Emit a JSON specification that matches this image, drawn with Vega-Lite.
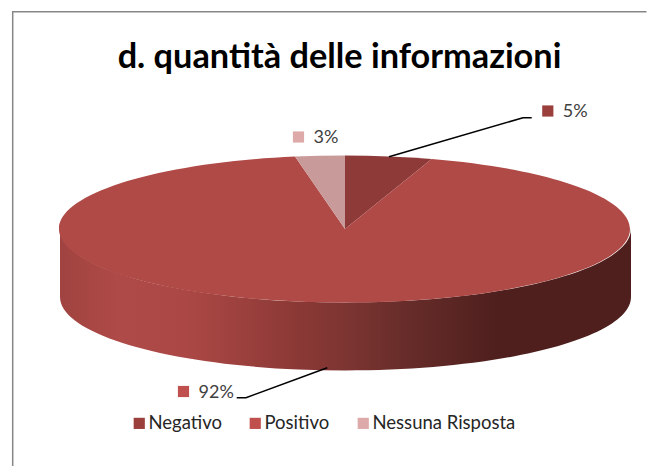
{
  "$schema": "https://vega.github.io/schema/vega-lite/v6.json",
  "width": 647,
  "height": 466,
  "padding": 0,
  "autosize": {"type": "none"},
  "background": "white",
  "view": {"stroke": null},
  "title": {"text": "d. quantità delle informazioni", "font": "Lato", "fontSize": 34.3, "fontWeight": "bold", "color": "#000000", "anchor": "middle", "baseline": "alphabetic", "offset": -102, "dx": 16},
  "data": {"values": [
    {"categoria": "Negativo", "valore": 5, "etichetta": "5%"},
    {"categoria": "Positivo", "valore": 92, "etichetta": "92%"},
    {"categoria": "Nessuna Risposta", "valore": 3, "etichetta": "3%"}
  ]},
  "layer": [
    {
      "data": {"values": [{"parte": "bordo"}]},
      "mark": {"type": "point", "shape": "M-310.8 233 L-310.8 -221.3 L323 -221.3", "size": 4, "filled": false, "stroke": "#868686", "strokeWidth": 1.5, "opacity": 1}
    },
    {
      "data": {"values": [{"parte": "lato"}]},
      "mark": {"type": "point", "shape": "M-263.5 -4 A285.5 73.5 0 0 0 307.5 -4 L307.5 64 A285.5 73.5 0 0 1 -263.5 64 Z", "size": 4, "filled": true, "opacity": 1,
        "fill": {"gradient": "linear", "x1": 0, "y1": 0, "x2": 1, "y2": 0, "stops": [
          {"offset": 0, "color": "#A04340"},
          {"offset": 0.1, "color": "#AE4A47"},
          {"offset": 0.22, "color": "#AB4845"},
          {"offset": 0.3, "color": "#9F423F"},
          {"offset": 0.42, "color": "#8A3835"},
          {"offset": 0.5, "color": "#7D3532"},
          {"offset": 0.6, "color": "#682D2A"},
          {"offset": 0.77, "color": "#4E1F1D"},
          {"offset": 1, "color": "#4E1F1D"}
        ]}}
    },
    {
      "mark": {"type": "point", "size": 4, "filled": true, "opacity": 1},
      "encoding": {
        "shape": {"field": "etichetta", "type": "nominal", "legend": null, "scale": {
          "domain": ["5%", "92%", "3%"],
          "range": [
            "M21.5 -4 L21.5 -77.5 A285.5 73.5 0 0 1 108.2 -74 Z",
            "M21.5 -4 L108.2 -74 A285.5 73.5 0 1 1 -28.5 -76.4 Z",
            "M21.5 -4 L-28.5 -76.4 A285.5 73.5 0 0 1 21.5 -77.5 Z"
          ]}},
        "fill": {"field": "etichetta", "type": "nominal", "legend": null, "scale": {
          "domain": ["5%", "92%", "3%"],
          "range": ["#8E3A38", "#AF4A47", "#C89A99"]}}
      }
    },
    {
      "transform": [{"filter": "datum.valore != 3"}],
      "mark": {"type": "point", "size": 4, "filled": false, "fill": null, "stroke": "#000000", "strokeWidth": 1.6, "opacity": 1},
      "encoding": {
        "shape": {"field": "etichetta", "type": "nominal", "legend": null, "scale": {
          "domain": ["5%", "92%"],
          "range": [
            "M65.5 -76.3 L199.5 -115.3 L208.2 -115.3",
            "M-86.8 164.7 L-77.5 164.7 L3.8 134.7"
          ]}}
      }
    },
    {
      "mark": {"type": "point", "shape": "square", "size": 125, "filled": true, "opacity": 1},
      "encoding": {
        "x": {"field": "valore", "type": "quantitative", "axis": null, "scale": {"domain": [3, 5, 92], "range": [298.5, 547.8, 183.5], "nice": false, "zero": false}},
        "y": {"field": "valore", "type": "quantitative", "axis": null, "scale": {"domain": [3, 5, 92], "range": [137, 111, 391.5], "nice": false, "zero": false}},
        "color": {"field": "categoria", "type": "nominal",
          "scale": {"domain": ["Negativo", "Positivo", "Nessuna Risposta"], "range": ["#9A3F3C", "#C0504D", "#DDAAA9"]},
          "legend": {"title": null, "orient": "none", "legendX": 130, "legendY": 414, "direction": "horizontal", "columns": 3, "symbolType": "square", "symbolSize": 125, "labelFont": "Lato", "labelFontSize": 18.5, "labelColor": "#262626", "columnPadding": 24, "labelOffset": 0, "padding": 0}}
      }
    },
    {
      "mark": {"type": "text", "font": "Lato", "fontSize": 18, "align": "left", "baseline": "middle", "dx": 15, "dy": 1, "color": "#404040"},
      "encoding": {
        "x": {"field": "valore", "type": "quantitative", "axis": null, "scale": {"domain": [3, 5, 92], "range": [298.5, 547.8, 183.5], "nice": false, "zero": false}},
        "y": {"field": "valore", "type": "quantitative", "axis": null, "scale": {"domain": [3, 5, 92], "range": [137, 111, 391.5], "nice": false, "zero": false}},
        "text": {"field": "etichetta", "type": "nominal"}
      }
    }
  ],
  "resolve": {"scale": {"shape": "independent"}}
}
